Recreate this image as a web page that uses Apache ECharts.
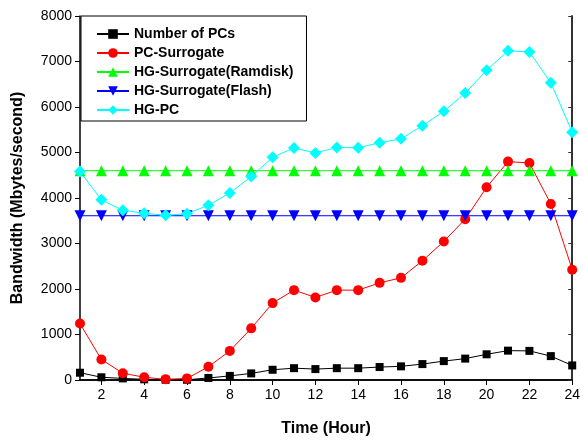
<!DOCTYPE html>
<html>
<head>
<meta charset="utf-8">
<script src="https://cdn.jsdelivr.net/npm/echarts@6/dist/echarts.min.js"></script>
<style>
  html, body { margin: 0; padding: 0; background: #fff; }
  #chart { width: 583px; height: 442px; }
</style>
</head>
<body>
<div id="chart"></div>
<script>
// Hours on the x axis
const hours = [1, 2, 3, 4, 5, 6, 7, 8, 9, 10, 11, 12, 13, 14, 15, 16, 17, 18, 19, 20, 21, 22, 23, 24];
const hourTicks = [2, 4, 6, 8, 10, 12, 14, 16, 18, 20, 22, 24];

// Bandwidth values (Mbytes/second)
const numberOfPCs = [160, 60, 35, 15, 5, 5, 45, 90, 145, 225, 260, 240, 260, 260, 285, 300, 350, 415, 470, 565, 645, 640, 525, 320];
const pcSurrogate = [1240, 450, 150, 60, 15, 35, 290, 640, 1135, 1690, 1975, 1815, 1975, 1975, 2135, 2245, 2620, 3045, 3535, 4235, 4800, 4770, 3870, 2425];
const hgRamdisk = [4600, 4600, 4600, 4600, 4600, 4600, 4600, 4600, 4600, 4600, 4600, 4600, 4600, 4600, 4600, 4600, 4600, 4600, 4600, 4600, 4600, 4600, 4600, 4600];
const hgFlash = [3610, 3610, 3610, 3610, 3610, 3610, 3610, 3610, 3610, 3610, 3610, 3610, 3610, 3610, 3610, 3610, 3610, 3610, 3610, 3610, 3610, 3610, 3610, 3610];
const hgPC = [4580, 3960, 3730, 3665, 3620, 3655, 3840, 4110, 4470, 4895, 5100, 4990, 5110, 5105, 5215, 5300, 5590, 5905, 6305, 6805, 7235, 7210, 6535, 5445];

function pairs(values) {
  return hours.map((h, i) => [h, values[i]]);
}

function lineSeries(name, values, color, symbol, size, rotate) {
  return {
    name: name,
    type: 'line',
    data: pairs(values),
    symbol: symbol,
    symbolSize: size,
    symbolRotate: rotate || 0,
    lineStyle: { color: color, width: 1 },
    itemStyle: { color: color },
    emphasis: { disabled: true },
    animation: false
  };
}

const chart = echarts.init(document.getElementById('chart'));
const font = '"Liberation Sans", Arial, sans-serif';

const option = {
  backgroundColor: '#fff',
  textStyle: { fontFamily: font },
  grid: { left: 80, right: 6, top: 16, bottom: 59 },
  legend: {
    orient: 'vertical',
    left: 81,
    top: 16,
    padding: [11, 13, 4, 15],
    itemGap: 5,
    itemWidth: 32,
    itemHeight: 12,
    borderColor: '#000',
    borderWidth: 1,
    textStyle: { fontFamily: font, fontWeight: 'bold', fontSize: 14, color: '#000' },
    data: ['Number of PCs', 'PC-Surrogate', 'HG-Surrogate(Ramdisk)', 'HG-Surrogate(Flash)', 'HG-PC']
  },
  xAxis: [
    {
      type: 'value',
      min: 1,
      max: 24,
      name: 'Time (Hour)',
      nameLocation: 'middle',
      nameGap: 41,
      nameTextStyle: { fontFamily: font, fontWeight: 'bold', fontSize: 16, color: '#000' },
      axisLine: { lineStyle: { color: '#000', width: 1.5 } },
      axisTick: { show: true, length: 5, lineStyle: { color: '#000' }, customValues: hourTicks },
      axisLabel: { fontFamily: font, fontSize: 14, color: '#000', margin: 8, customValues: hourTicks },
      splitLine: { show: false }
    },
    {
      type: 'value',
      position: 'top',
      min: 1,
      max: 24,
      axisLine: { lineStyle: { color: '#000', width: 1.5 } },
      axisTick: { show: true, inside: true, length: 4, lineStyle: { color: '#000' }, customValues: hourTicks },
      axisLabel: { show: false },
      splitLine: { show: false }
    }
  ],
  yAxis: [
    {
      type: 'value',
      min: 0,
      max: 8000,
      interval: 1000,
      name: 'Bandwidth (Mbytes/second)',
      nameLocation: 'middle',
      nameGap: 54,
      nameTextStyle: { fontFamily: font, fontWeight: 'bold', fontSize: 16, color: '#000' },
      axisLine: { show: true, lineStyle: { color: '#000', width: 1.5 } },
      axisTick: { show: true, length: 5, lineStyle: { color: '#000' } },
      axisLabel: { fontFamily: font, fontSize: 14, color: '#000', margin: 8, formatter: v => String(v) },
      splitLine: { show: false }
    },
    {
      type: 'value',
      position: 'right',
      min: 0,
      max: 8000,
      interval: 1000,
      axisLine: { show: true, lineStyle: { color: '#333', width: 2 } },
      axisTick: { show: true, inside: true, length: 4, lineStyle: { color: '#333' } },
      axisLabel: { show: false },
      splitLine: { show: false }
    }
  ],
  series: [
    lineSeries('Number of PCs', numberOfPCs, '#000000', 'rect', 8),
    lineSeries('PC-Surrogate', pcSurrogate, '#ff0000', 'circle', 10),
    lineSeries('HG-Surrogate(Ramdisk)', hgRamdisk, '#00ff00', 'triangle', 11),
    lineSeries('HG-Surrogate(Flash)', hgFlash, '#0000ff', 'triangle', 11, 180),
    lineSeries('HG-PC', hgPC, '#00ffff', 'diamond', 12)
  ]
};

chart.setOption(option);
</script>
</body>
</html>
